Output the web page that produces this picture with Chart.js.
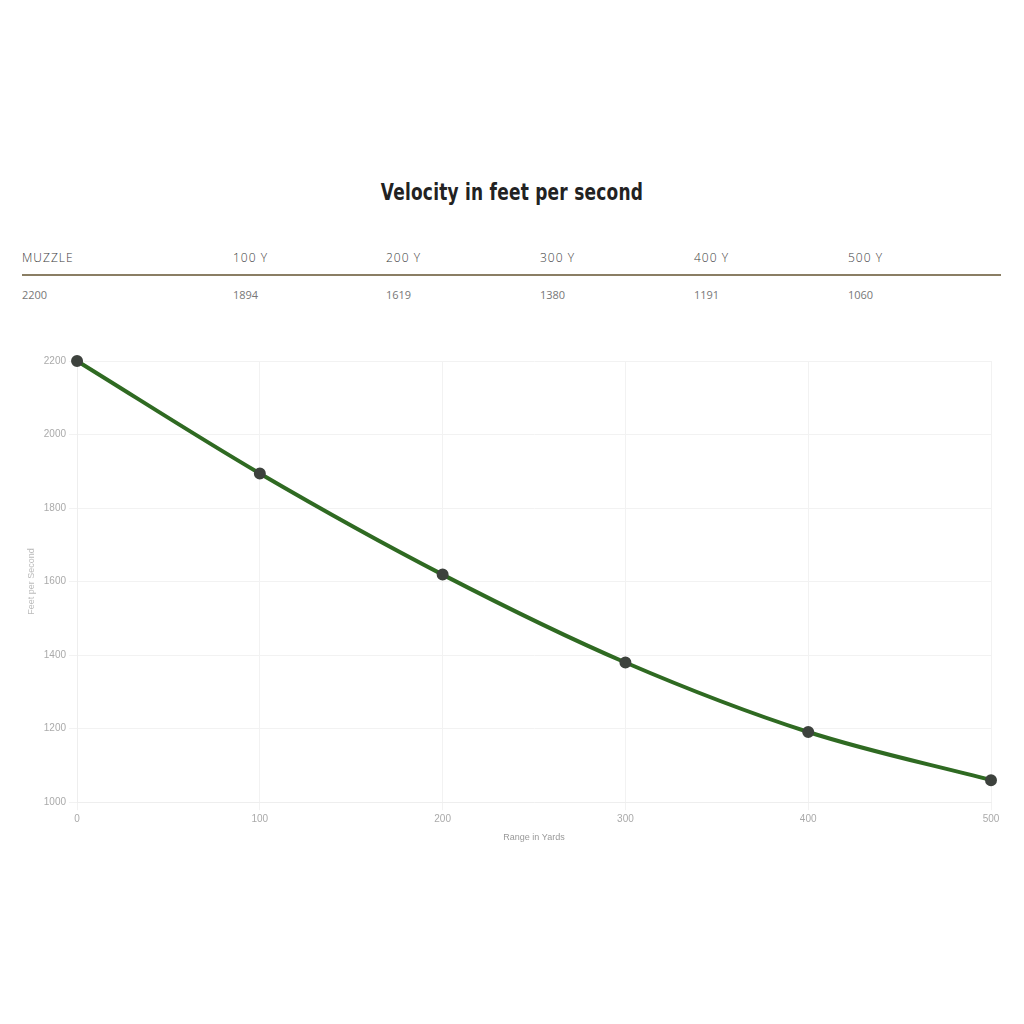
<!DOCTYPE html>
<html>
<head>
<meta charset="utf-8">
<script src="https://cdn.jsdelivr.net/npm/chart.js@4"></script>
<style>
  body { margin: 0; background: #fff; width: 1024px; height: 1024px; position: relative; overflow: hidden; font-family: "Open Sans", sans-serif; }
  #title { position: absolute; top: 179px; left: 0; width: 1024px; text-align: center; }
  #title span { display: inline-block; transform: scaleX(0.82); font-family: "DejaVu Sans Condensed", "DejaVu Sans", sans-serif; font-weight: bold; font-size: 23px; color: #222; letter-spacing: 0.3px; }
  #table { position: absolute; top: 249px; left: 22px; width: 979px; }
  .row { position: relative; height: 20px; }
  .row span { position: absolute; top: 0; font-size: 12px; }
  #head span { color: #3a3a3a; letter-spacing: 1px; font-weight: 300; }
  #vals span { color: #777; font-size: 11px; }
  #rule { height: 2px; background: #8a7e64; margin: 5px 0 11px 0; }
  #wrap { position: absolute; left: 0; top: 340px; width: 1024px; height: 520px; }
</style>
</head>
<body>
<div id="title"><span>Velocity in feet per second</span></div>
<div id="table">
  <div class="row" id="head"></div>
  <div id="rule"></div>
  <div class="row" id="vals"></div>
</div>
<div id="wrap"><canvas id="velChart"></canvas></div>
<script>
// range in yards and velocity (fps)
const rangeYards = [0, 100, 200, 300, 400, 500];
const velocity = [2200, 1894, 1619, 1380, 1191, 1060];
const headLabels = ['MUZZLE', '100 Y', '200 Y', '300 Y', '400 Y', '500 Y'];
const colX = [0, 211, 364, 518, 672, 826];

const head = document.getElementById('head');
const vals = document.getElementById('vals');
headLabels.forEach((h, i) => {
    const s = document.createElement('span');
    s.textContent = h;
    s.style.left = colX[i] + 'px';
    head.appendChild(s);
    const v = document.createElement('span');
    v.textContent = velocity[i];
    v.style.left = colX[i] + 'px';
    vals.appendChild(v);
});

new Chart(
    document.getElementById('velChart'),
    {
        type: 'line',
        data: {
            datasets: [{
                label: 'Velocity',
                data: rangeYards.map((r, i) => ({ x: r, y: velocity[i] })),
                borderColor: '#2f6a22',
                borderWidth: 4,
                tension: 0.4,
                cubicInterpolationMode: 'monotone',
                pointBackgroundColor: '#3d423d',
                pointBorderColor: '#3d423d',
                pointRadius: 4,
                fill: false,
                clip: false
            }]
        },
        options: {
            responsive: true,
            maintainAspectRatio: false,
            animation: false,
            layout: { padding: { left: 22, right: 33, top: 21, bottom: 13 } },
            plugins: { legend: { display: false }, tooltip: { enabled: false } },
            scales: {
                x: {
                    type: 'linear',
                    min: 0, max: 500,
                    ticks: { stepSize: 100, color: '#aaa', font: { size: 10 }, callback: v => String(v) },
                    grid: { color: '#f2f2f2' },
                    border: { color: '#eee' },
                    title: { display: true, text: 'Range in Yards', color: '#999', font: { size: 9 } }
                },
                y: {
                    min: 1000, max: 2200,
                    ticks: { stepSize: 200, color: '#aaa', font: { size: 10 }, callback: v => String(v) },
                    grid: { color: '#f2f2f2' },
                    border: { color: '#eee' },
                    title: { display: true, text: 'Feet per Second', color: '#bbb', font: { size: 9 } }
                }
            }
        }
    }
);
</script>
</body>
</html>
